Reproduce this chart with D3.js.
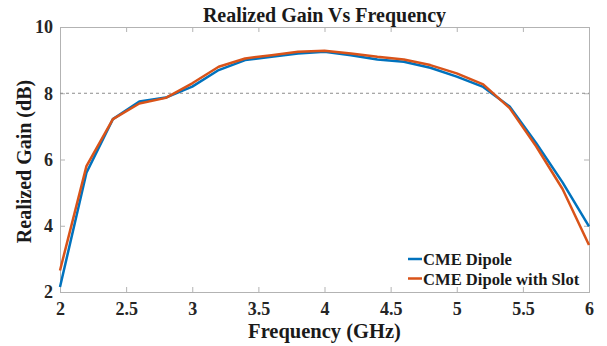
<!DOCTYPE html>
<meta charset="utf-8">
<html lang="en">
  <head>
    <style>
      body { margin: 0; background: #fff; overflow: hidden; }
      svg { display: block; }
      .series { fill: none; stroke-width: 2.5px; stroke-linejoin: round; }
    </style>
  </head>
  <body>
    <script src="https://d3js.org/d3.v7.min.js"></script>
    <svg id="chart"></svg>
    <script>

      // frequency points (GHz)
      var freq = [2, 2.2, 2.4, 2.6, 2.8, 3, 3.2, 3.4, 3.6, 3.8, 4, 4.2, 4.4, 4.6, 4.8, 5, 5.2, 5.4, 5.6, 5.8, 6];

      // realized gain (dB)
      var dipole = [2.15, 5.6, 7.22, 7.75, 7.87, 8.2, 8.7, 9.0, 9.1, 9.2, 9.25, 9.15, 9.02, 8.95, 8.77, 8.5, 8.19, 7.6, 6.5, 5.31, 3.98];
      var dipoleSlot = [2.65, 5.8, 7.22, 7.69, 7.86, 8.3, 8.8, 9.05, 9.15, 9.25, 9.28, 9.2, 9.1, 9.02, 8.85, 8.6, 8.27, 7.55, 6.4, 5.11, 3.42];

      var xTicks = [2, 2.5, 3, 3.5, 4, 4.5, 5, 5.5, 6];
      var yTicks = [2, 4, 6, 8, 10];
      var seriesNames = ["CME Dipole", "CME Dipole with Slot"];
      var seriesColors = ["#0072BD", "#D95319"];

      var FONT = "'Liberation Serif', 'Times New Roman', serif";
      var width = 607, height = 346;
      var margin = {top: 27, right: 18, bottom: 54, left: 60};

      var svg = d3.select("#chart")
        .attr("width", width)
        .attr("height", height);

      var x = d3.scaleLinear().domain([2, 6]).range([margin.left, width - margin.right]);
      var y = d3.scaleLinear().domain([2, 10]).range([height - margin.bottom, margin.top]);

      function styleTicks(g) {
        g.selectAll("text")
          .style("font-family", FONT)
          .style("font-weight", "bold")
          .style("font-size", "18px")
          .attr("fill", "#262626");
      }

      // box + inward ticks
      svg.append("g")
        .attr("transform", "translate(0," + y(2) + ")")
        .call(d3.axisBottom(x).tickValues(xTicks).tickSize(-5).tickPadding(10).tickFormat(d3.format("")))
        .call(styleTicks);

      svg.append("g")
        .attr("transform", "translate(0," + y(10) + ")")
        .call(d3.axisTop(x).tickValues(xTicks).tickSize(-5).tickFormat(""));

      svg.append("g")
        .attr("transform", "translate(" + x(2) + ",0)")
        .call(d3.axisLeft(y).tickValues(yTicks).tickSize(-5).tickPadding(7))
        .call(styleTicks);

      svg.append("g")
        .attr("transform", "translate(" + x(6) + ",0)")
        .call(d3.axisRight(y).tickValues(yTicks).tickSize(-5).tickFormat(""));

      svg.selectAll(".domain").attr("stroke", "#b3b3b3");
      svg.selectAll(".tick line").attr("stroke", "#b3b3b3");

      // 8 dB reference line
      svg.append("line")
        .attr("x1", x(2)).attr("x2", x(6))
        .attr("y1", y(8)).attr("y2", y(8))
        .attr("stroke", "#8c8c8c")
        .attr("stroke-width", 1)
        .attr("stroke-dasharray", "3,3");

      var line = d3.line()
        .x(function(d) { return x(d[0]); })
        .y(function(d) { return y(d[1]); });

      [dipole, dipoleSlot].forEach(function(vals, i) {
        svg.append("path")
          .attr("class", "series")
          .attr("stroke", seriesColors[i])
          .attr("d", line(d3.zip(freq, vals)));
      });

      function label(sel, size) {
        return sel.style("font-family", FONT)
          .style("font-weight", "bold")
          .style("font-size", size + "px")
          .attr("fill", "#1a1a1a");
      }

      // title and axis labels
      svg.append("text")
        .attr("x", (x(2) + x(6)) / 2).attr("y", 22)
        .attr("text-anchor", "middle")
        .call(label, 20)
        .text("Realized Gain Vs Frequency");

      svg.append("text")
        .attr("x", (x(2) + x(6)) / 2).attr("y", 338)
        .attr("text-anchor", "middle")
        .call(label, 20.5)
        .text("Frequency (GHz)");

      svg.append("text")
        .attr("transform", "translate(31," + ((y(2) + y(10)) / 2 + 2) + ") rotate(-90)")
        .attr("text-anchor", "middle")
        .call(label, 20)
        .text("Realized Gain (dB)");

      // legend
      var legend = svg.append("g");
      seriesNames.forEach(function(name, i) {
        var ly = 259 + i * 19.5;
        legend.append("line")
          .attr("x1", 408).attr("x2", 422)
          .attr("y1", ly).attr("y2", ly)
          .attr("stroke", seriesColors[i])
          .attr("stroke-width", 2.5);
        legend.append("text")
          .attr("x", 423).attr("y", ly + 6)
          .call(label, 16.6)
          .text(name);
      });

    </script>
  </body>
</html>
